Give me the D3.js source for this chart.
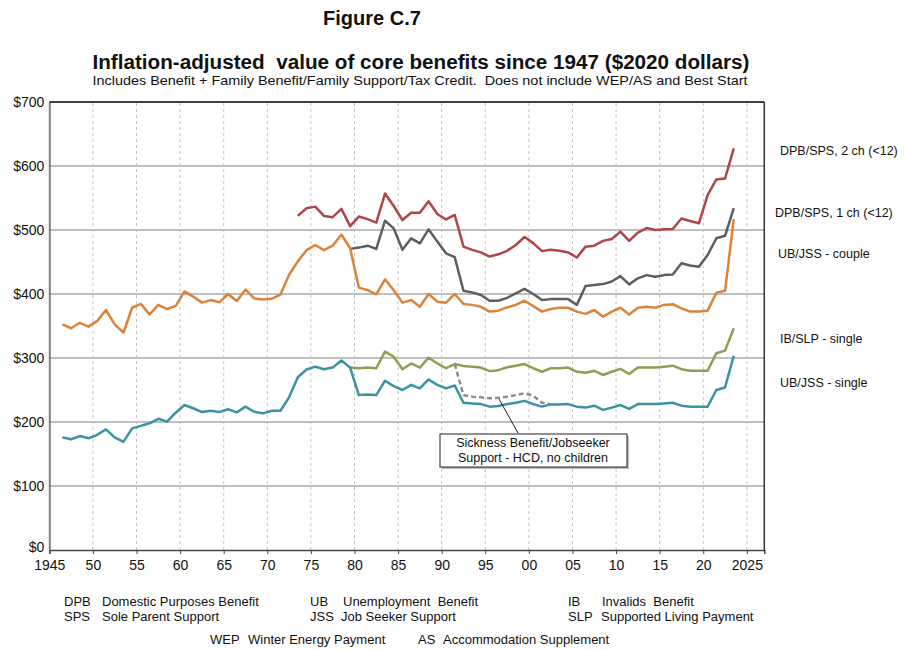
<!DOCTYPE html>
<html>
<head>
<meta charset="utf-8">
<script src="https://cdn.jsdelivr.net/npm/d3@7"></script>
<style>
  body { margin: 0; background: #fff; }
  text { font-family: "Liberation Sans", Arial, sans-serif; fill: #111; white-space: pre; }
</style>
</head>
<body>
<div id="chart"></div>
<script>
const ubSingleStart = 1946;
const ubSingle = [176, 173, 178, 174.5, 180, 188.5, 176, 169, 190, 194, 198, 205, 200.5, 214.5, 226.5, 221.5, 215.5, 217.5, 215.5, 220,
  215, 224, 216, 213.5, 217.5, 217.5, 238.5, 270, 282, 286.5, 282.5, 285, 296, 285, 242, 243, 242, 264.5, 256, 250,
  258, 252.5, 266.5, 258, 252.5, 257, 230, 229, 228, 224, 225, 228, 230, 233, 228, 224, 227.5, 227.5, 228, 224,
  222.5, 225.5, 219, 222.5, 226.5, 220.5, 228, 228, 228, 229, 230, 225.5, 224, 224, 224, 250, 254, 303.5];

const ubCoupleStart = 1946;
const ubCouple = [352.5, 346.5, 355, 349, 358, 375, 352.5, 339.5, 378.5, 384.5, 368, 383, 376.5, 381.5, 404, 396, 386.5, 390.5, 387, 400,
  389, 407, 393, 391.5, 392.5, 399, 430, 451, 468.5, 476.5, 468.5, 475.5, 493, 471.5, 410, 406, 399.5, 423, 406, 386.5,
  390.5, 380, 400, 388, 386.5, 400, 384.5, 383, 380, 372.5, 374, 379, 383, 389.5, 381, 372.5, 376.5, 378.5, 378.5, 372.5,
  369, 375, 364.5, 372.5, 378.5, 368, 378.5, 380, 378.5, 383, 384, 377.5, 372.5, 372.5, 374, 402, 405, 517];

const dpb2Start = 1973;
const dpb2 = [522, 534, 536.5, 522, 520, 533, 506, 521, 517, 511.5, 557, 537.5, 515.5, 527, 527, 545, 525, 516.5, 523.5, 474,
  469, 465, 458.5, 462, 467.5, 476.5, 489, 479.5, 467, 469, 467.5, 465, 457, 474, 475.5, 483, 486, 497.5, 483, 496,
  503, 500, 501, 501.5, 518, 514, 510.5, 554.5, 579, 580.5, 627.5];

const dpb1Start = 1979;
const dpb1 = [470.5, 472.5, 475.5, 470.5, 514.5, 502.5, 469, 487, 479, 501, 482, 463.5, 457.5, 405, 402.5, 398.5, 389.5, 389.5, 394, 401,
  408, 400, 390.5, 392, 392, 392, 383, 412.5, 414, 415.5, 419.5, 428, 415, 424.5, 429.5, 427, 429.5, 430.5, 448, 444.5,
  442.5, 461, 487, 491, 534];

const ibSingleStart = 1979;
const ibSingle = [285, 284, 285, 284, 310, 302, 282.5, 291.5, 285, 300.5, 291.5, 284, 290.5, 287.5, 286.5, 285, 279.5, 281, 285.5, 288,
  290.5, 284, 278.5, 284, 284, 285, 278.5, 277, 280, 273.5, 278.5, 283, 275, 285, 285, 285, 286.5, 288, 282.5, 280,
  280, 280, 307.5, 311.5, 346.5];

const sicknessStart = 1991;
const sickness = [290.5, 242, 239.5, 238.5, 237, 238, 239.5, 242, 245, 241, 230, 227.5];

const xTicks = [1945, 1950, 1955, 1960, 1965, 1970, 1975, 1980, 1985, 1990, 1995, 2000, 2005, 2010, 2015, 2020, 2025];
const xTickLabels = ["1945", "50", "55", "60", "65", "70", "75", "80", "85", "90", "95", "00", "05", "10", "15", "20", "2025"];
const yTicks = [0, 100, 200, 300, 400, 500, 600, 700];

const seriesLabels = [
  { text: "DPB/SPS, 2 ch (<12)", x: 780, y: 155 },
  { text: "DPB/SPS, 1 ch (<12)", x: 775, y: 217 },
  { text: "UB/JSS - couple", x: 778, y: 258 },
  { text: "IB/SLP - single", x: 780, y: 343 },
  { text: "UB/JSS - single", x: 780, y: 387 }
];

const abbrevs = [
  ["DPB", "Domestic Purposes Benefit", 64, 102, 606],
  ["SPS", "Sole Parent Support", 64, 102, 621],
  ["UB", "Unemployment  Benefit", 310, 343, 606],
  ["JSS", "Job Seeker Support", 310, 341, 621],
  ["IB", "Invalids  Benefit", 568, 602, 606],
  ["SLP", "Supported Living Payment", 568, 601, 621],
  ["WEP", "Winter Energy Payment", 210, 248, 644],
  ["AS", "Accommodation Supplement", 418, 443, 644]
];

const W = 905, H = 650;
const svg = d3.select("#chart").append("svg").attr("width", W).attr("height", H);

const x = d3.scaleLinear().domain([1945, 2027]).range([49.3, 764.3]);
const y = d3.scaleLinear().domain([0, 700]).range([550, 102]);

// turn a start year + values into points
function toPoints(start, vals) {
  return vals.map((v, i) => ({ year: start + i, v: v }));
}
const line = d3.line().x(d => x(d.year + 0.5)).y(d => y(d.v));

// titles
svg.append("text").attr("x", 372).attr("y", 25).attr("text-anchor", "middle")
  .style("font-size", "20px").style("font-weight", "bold").text("Figure C.7");
svg.append("text").attr("x", 421).attr("y", 69).attr("text-anchor", "middle")
  .style("font-size", "20px").style("font-weight", "bold")
  .attr("textLength", 657).attr("lengthAdjust", "spacingAndGlyphs")
  .text("Inflation-adjusted  value of core benefits since 1947 ($2020 dollars)");
svg.append("text").attr("x", 420).attr("y", 85).attr("text-anchor", "middle")
  .style("font-size", "13px")
  .attr("textLength", 655).attr("lengthAdjust", "spacingAndGlyphs")
  .text("Includes Benefit + Family Benefit/Family Support/Tax Credit.  Does not include WEP/AS and Best Start");

// grid
svg.append("g").selectAll("line").data(yTicks.filter(t => t > 0 && t < 700)).join("line")
  .attr("x1", x(1945)).attr("x2", x(2027))
  .attr("y1", d => y(d)).attr("y2", d => y(d))
  .attr("stroke", "#aaaaaa").attr("stroke-width", 1.4);
svg.append("g").selectAll("line").data(xTicks.filter(t => t > 1945)).join("line")
  .attr("x1", d => x(d)).attr("x2", d => x(d))
  .attr("y1", y(0)).attr("y2", y(700))
  .attr("stroke", "#c4c4c4").attr("stroke-width", 1).attr("stroke-dasharray", "3,3");

// axes
const xAxis = d3.axisBottom(x).tickValues(xTicks).tickFormat((d, i) => xTickLabels[i]).tickSize(4).tickPadding(6);
const gx = svg.append("g").attr("transform", `translate(0,${y(0)})`).call(xAxis);
gx.select(".domain").attr("stroke", "#444").attr("stroke-width", 1.5);
gx.selectAll(".tick line").attr("stroke", "#444");
gx.selectAll("text").style("font-size", "14px").style("font-family", "Liberation Sans, Arial, sans-serif").attr("fill", "#111");

const yAxis = d3.axisLeft(y).tickValues(yTicks).tickFormat(d => "$" + d).tickSize(0).tickPadding(5);
const gy = svg.append("g").attr("transform", `translate(${x(1945)},0)`).call(yAxis);
gy.select(".domain").attr("stroke", "#808080").attr("stroke-width", 2);
gy.selectAll("text").style("font-size", "14px").style("font-family", "Liberation Sans, Arial, sans-serif").attr("fill", "#111");
gy.selectAll("text").filter(d => d === 0).attr("dy", "0.1em");

// top and right border
svg.append("line").attr("x1", x(1945)).attr("x2", x(2027)).attr("y1", y(700)).attr("y2", y(700))
  .attr("stroke", "#000").attr("stroke-width", 1.5);
svg.append("line").attr("x1", x(2027)).attr("x2", x(2027)).attr("y1", y(700)).attr("y2", y(0))
  .attr("stroke", "#333").attr("stroke-width", 1.5);

// series
const series = [
  { pts: toPoints(dpb2Start, dpb2), color: "#AF4547" },
  { pts: toPoints(dpb1Start, dpb1), color: "#5E5E5E" },
  { pts: toPoints(ubCoupleStart, ubCouple), color: "#DC833A" },
  { pts: toPoints(ibSingleStart, ibSingle), color: "#8AA052" },
  { pts: toPoints(sicknessStart, sickness), color: "#8c8c8c", dash: "5,3" },
  { pts: toPoints(ubSingleStart, ubSingle), color: "#3A93A2" }
];
series.forEach(s => {
  svg.append("path").datum(s.pts)
    .attr("d", line)
    .attr("fill", "none")
    .attr("stroke", s.color)
    .attr("stroke-width", 2.5)
    .attr("stroke-linejoin", "round")
    .attr("stroke-dasharray", s.dash || null);
});

// labels on the right
svg.append("g").selectAll("text").data(seriesLabels).join("text")
  .attr("x", d => d.x).attr("y", d => d.y)
  .style("font-size", "12.5px").text(d => d.text);

// annotation box for the dashed line
svg.append("line").attr("x1", 499).attr("y1", 399).attr("x2", 518).attr("y2", 433)
  .attr("stroke", "#222").attr("stroke-width", 1);
svg.append("rect").attr("x", 442).attr("y", 436).attr("width", 187).attr("height", 33).attr("fill", "#bbb");
svg.append("rect").attr("x", 440).attr("y", 434).attr("width", 187).attr("height", 33)
  .attr("fill", "#fff").attr("stroke", "#222").attr("stroke-width", 1);
svg.append("text").attr("x", 533).attr("y", 447).attr("text-anchor", "middle").style("font-size", "12.5px")
  .text("Sickness Benefit/Jobseeker");
svg.append("text").attr("x", 533).attr("y", 462).attr("text-anchor", "middle").style("font-size", "12.5px")
  .text("Support - HCD, no children");

// abbreviations under the chart
const ab = svg.append("g").style("font-size", "13px");
abbrevs.forEach(a => {
  ab.append("text").attr("x", a[2]).attr("y", a[4]).text(a[0]);
  ab.append("text").attr("x", a[3]).attr("y", a[4]).text(a[1]);
});
</script>
</body>
</html>
